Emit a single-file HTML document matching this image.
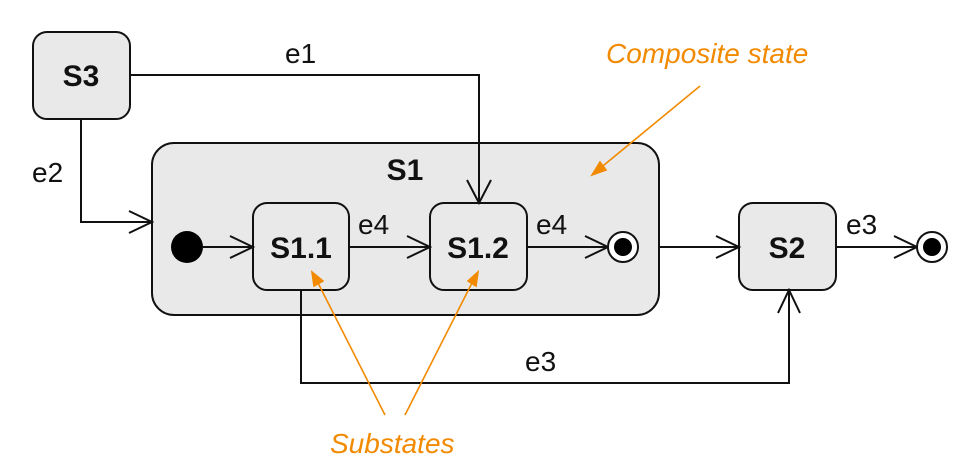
<!DOCTYPE html>
<html><head><style>body{margin:0;background:#fff}svg{display:block}</style></head><body>
<svg width="963" height="465" xmlns="http://www.w3.org/2000/svg" font-family="Liberation Sans, sans-serif">
<g stroke="#111" stroke-width="2" fill="#e9e9e9">
<rect x="152" y="143" width="507" height="172" rx="22"/>
<rect x="33" y="32" width="97" height="87" rx="14"/>
<rect x="253" y="203" width="96" height="87" rx="14"/>
<rect x="430" y="203" width="97" height="87" rx="14"/>
<rect x="739" y="203" width="97" height="87" rx="14"/>
</g>
<g stroke="#111" stroke-width="2" fill="none">
<path d="M130 75H479V203M467 180L479 203L491 180"/>
<path d="M81 119V222H152M129 211L152 222L129 233"/>
<path d="M203 247H253M230 236L253 247L230 258"/>
<path d="M349 247H430M407 236L430 247L407 258"/>
<path d="M527 247H608M585 236L608 247L585 258"/>
<path d="M660 247H739M716 236L739 247L716 258"/>
<path d="M836 247H917M894 236L917 247L894 258"/>
<path d="M301 290V383H789V290M778 313L789 290L800 313"/>
<circle cx="623" cy="247" r="15" fill="#fff"/>
<circle cx="932" cy="247" r="15" fill="#fff"/>
</g>
<circle cx="187" cy="247" r="16" fill="#000"/>
<circle cx="623" cy="247" r="9" fill="#000"/>
<circle cx="932" cy="247" r="9" fill="#000"/>
<g font-weight="bold" font-size="30" text-anchor="middle" fill="#111">
<text x="81" y="86">S3</text>
<text x="405" y="180">S1</text>
<text x="301" y="258">S1.1</text>
<text x="478" y="258">S1.2</text>
<text x="787" y="258">S2</text>
</g>
<g font-size="28" fill="#111">
<text x="285" y="63">e1</text>
<text x="32" y="182">e2</text>
<text x="358" y="234">e4</text>
<text x="536" y="234">e4</text>
<text x="846" y="234">e3</text>
<text x="525" y="371">e3</text>
</g>
<g stroke="#f28a00" stroke-width="1.6" fill="#f28a00">
<line x1="700" y1="86" x2="598" y2="170"/><path d="M592 175L600 162L606 170Z"/>
<line x1="385" y1="415" x2="316" y2="279"/><path d="M312 272L323 281L314 286Z"/>
<line x1="405" y1="415" x2="474" y2="279"/><path d="M478 272L476 286L468 281Z"/>
</g>
<g font-size="28" font-style="italic" fill="#f28a00">
<text x="606" y="63">Composite state</text>
<text x="330" y="453">Substates</text>
</g>
</svg>
</body></html>
